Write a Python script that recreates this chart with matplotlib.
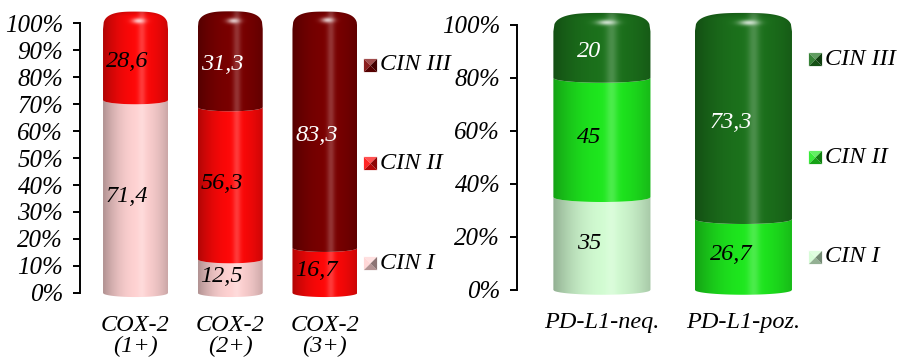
import numpy as np
import matplotlib
matplotlib.use('Agg')
import matplotlib.pyplot as plt
from matplotlib.patches import Polygon
from matplotlib.transforms import blended_transform_factory
from matplotlib.colors import to_rgb

plt.rcParams['font.family'] = ['Liberation Serif', 'DejaVu Serif']
plt.rcParams['font.style'] = 'italic'

series = ['CIN I', 'CIN II', 'CIN III']
label_colors = ['black', 'black', 'white']

cox_labels = ['COX-2\n(1+)', 'COX-2\n(2+)', 'COX-2\n(3+)']
cox_cin1 = [71.4, 12.5, 0]
cox_cin2 = [28.6, 56.3, 16.7]
cox_cin3 = [0, 31.3, 83.3]
cox_colors = ['#ffd2d2', '#ff0808', '#7a0000']

pd_labels = ['PD-L1-neq.', 'PD-L1-poz.']
pd_cin1 = [35, 0]
pd_cin2 = [45, 26.7]
pd_cin3 = [20, 73.3]
pd_colors = ['#d2fcd2', '#1ee81e', '#1c721c']

fig = plt.figure(figsize=(9, 3.62), dpi=100)


def shade_rows(color, u):
    c = np.array(to_rgb(color))
    f = 0.64 + 0.36 * np.clip(1 - ((u - 0.55) / 0.6) ** 2, 0, 1)
    hl = 0.2 * np.exp(-((u - 0.6) / 0.06) ** 2)
    rgb = c[None, :] * f[:, None]
    return rgb + (1 - rgb) * hl[:, None]


def fmt(v):
    return f'{v:g}'.replace('.', ',')


def cylinder(ax, x, w, parts, colors, depth, cap):
    u = np.linspace(0, 1, 90)
    arc = np.sqrt(np.clip(1 - (2 * u - 1) ** 2, 0, 1))
    xs = x - w / 2 + w * u
    idx = [i for i, h in enumerate(parts) if h > 0]
    bottom = 0.0
    for i in idx:
        h = parts[i]
        top = bottom + h
        low = bottom - depth * arc
        last = i == idx[-1]
        if last:
            s = np.abs(2 * u - 1)
            high = top - cap * 0.35 + cap * (1 - s ** 3) ** (1 / 3)
        else:
            high = top - depth * arc
        verts = np.vstack([np.column_stack([xs, low]),
                           np.column_stack([xs[::-1], high[::-1]])])
        patch = Polygon(verts, closed=True, fc='none', ec='none')
        ax.add_patch(patch)
        y0, y1 = low.min() - 0.5, high.max() + 0.5
        ny = 240
        yy = np.linspace(y0, y1, ny)
        row = shade_rows(colors[i], u)
        img = np.repeat(row[None, :, :], ny, axis=0)
        if last:
            # glossy spot on the rounded top
            g = np.exp(-((u[None, :] - 0.55) / 0.1) ** 2
                       - ((yy[:, None] - (top + 0.8)) / 1.0) ** 2)
            img = img + (1 - img) * (0.75 * g)[:, :, None]
            rim = np.clip((yy[:, None] - (top + 2.5)) / 3.0, 0, 1) * 0.25
            img = img * (1 - rim)[:, :, None] * np.ones_like(u)[None, :, None]
        im = ax.imshow(np.clip(img, 0, 1), extent=(x - w / 2, x + w / 2, y0, y1),
                       origin='lower', aspect='auto', interpolation='bilinear', zorder=2)
        im.set_clip_path(patch)
        ax.text(x - 0.13 * w, bottom + h / 2, fmt(h), ha='center', va='center',
                color=label_colors[i], fontsize=17.5, zorder=3)
        bottom = top


def setup(ax, labels, ticks, xlim):
    ax.set_xlim(*xlim)
    ax.set_ylim(-2, 106)
    for s in ['top', 'right', 'bottom']:
        ax.spines[s].set_visible(False)
    ax.spines['left'].set_bounds(0, 100)
    ax.spines['left'].set_linewidth(1.4)
    ax.set_yticks(ticks)
    ax.set_yticklabels([f'{t}%' for t in ticks])
    ax.tick_params(axis='y', direction='out', length=5, width=1.4, labelsize=18, pad=7)
    ax.set_xticks(range(len(labels)))
    ax.set_xticklabels(labels, linespacing=1.0)
    ax.tick_params(axis='x', length=0, labelsize=17.5, pad=12)
    ax.patch.set_visible(False)


def legend(ax, colors, xfig, ys):
    tr = blended_transform_factory(fig.transFigure, ax.transData)
    tris = {
        'top': ([(0, 0), (-1, 1), (1, 1)], 0.3),
        'left': ([(0, 0), (-1, -1), (-1, 1)], 0.12),
        'bottom': ([(0, 0), (1, -1), (-1, -1)], -0.3),
        'right': ([(0, 0), (1, 1), (1, -1)], -0.45),
    }
    for name, c, y in zip(series, colors, ys):
        base = np.array(to_rgb(c))
        for verts, k in tris.values():
            col = base + (1 - base) * k if k > 0 else base * (1 + k)
            ax.plot([xfig + 6.5 / 900], [y], marker=verts, markersize=9.5, mew=0,
                    color=col, linestyle='', transform=tr, clip_on=False)
        ax.text(xfig + 17 / 900, y, name, transform=tr, ha='left', va='center',
                fontsize=17.5)


ax1 = fig.add_axes([80 / 900, 0.1757, 280 / 900, 0.8055])
setup(ax1, cox_labels, range(0, 101, 10), (-0.586, 2.37))
for j in range(len(cox_labels)):
    cylinder(ax1, j, 0.686, [cox_cin1[j], cox_cin2[j], cox_cin3[j]], cox_colors, 1.5, 6.5)
legend(ax1, cox_colors, 363 / 900, [11, 48, 84.5])

ax2 = fig.add_axes([517 / 900, 0.1843, 288 / 900, 0.7906])
setup(ax2, pd_labels, range(0, 101, 20), (-0.60, 1.435))
for j in range(len(pd_labels)):
    cylinder(ax2, j, 0.686, [pd_cin1[j], pd_cin2[j], pd_cin3[j]], pd_colors, 1.8, 7)
legend(ax2, pd_colors, 808 / 900, [12.5, 50, 87])

ax1.set_xlim(-0.586, 2.37)
ax1.set_ylim(-2, 106)
ax2.set_xlim(-0.60, 1.435)
ax2.set_ylim(-2, 106)

fig.savefig('out.png', dpi=100)
